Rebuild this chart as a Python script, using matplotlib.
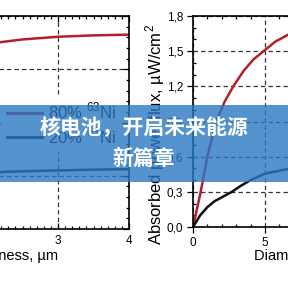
import matplotlib
matplotlib.use('Agg')
import matplotlib.pyplot as plt
import matplotlib.ticker as mticker
from matplotlib.patches import Rectangle

plt.rcParams['font.family'] = ['Liberation Sans', 'DejaVu Sans']
plt.rcParams['mathtext.fontset'] = 'custom'
plt.rcParams['mathtext.rm'] = 'Liberation Sans'

# left panel: thickness scan
thick = [2.0, 2.2, 2.5, 3.0, 3.5, 4.0]
eff_80 = [17.35, 17.55, 17.8, 18.05, 18.18, 18.25]
eff_20 = [5.3, 5.35, 5.42, 5.5, 5.57, 5.62]

# right panel: diameter scan
diam = [0.0, 0.5, 1.0, 1.6, 2.2, 2.8, 3.5, 4.2, 4.9, 5.7, 6.6]
flux_80 = [0.0, 0.28, 0.6, 0.9, 1.07, 1.2, 1.33, 1.43, 1.5, 1.58, 1.64]
diam_b = [0.0, 0.5, 1.0, 1.5, 2.1, 2.7, 3.3, 4.0, 5.0, 6.6]
flux_20 = [0.0, 0.1, 0.17, 0.22, 0.26, 0.3, 0.35, 0.40, 0.455, 0.495]

labels = [r'80% $^{63}$Ni', r'20% $^{63}$Ni']
banner = ['核电池，开启未来能源', '新篇章']

red = '#b41f2c'
blk = '#111111'
grid_kw = dict(color='#333333', lw=0.9, ls=(0, (3.5, 2.5)))

fig = plt.figure(figsize=(2.88, 2.88), dpi=100)

# ---- left
ax1 = fig.add_axes([-155/288, 59/288, 284/288, 213/288])
l1, = ax1.plot(thick, eff_80, color=red, lw=1.8)
l2, = ax1.plot(thick, eff_20, color=blk, lw=1.8)
ax1.set_xlim(0, 4)
ax1.set_ylim(0, 20)
ax1.xaxis.set_major_locator(mticker.MultipleLocator(1))
ax1.xaxis.set_minor_locator(mticker.MultipleLocator(0.1))
ax1.yaxis.set_major_locator(mticker.MultipleLocator(5))
ax1.yaxis.set_minor_locator(mticker.MultipleLocator(1))
ax1.tick_params(which='both', direction='in', top=True, right=True, labelsize=8.5, width=0.9)
ax1.tick_params(which='major', length=4, pad=4)
ax1.tick_params(which='minor', length=2.5)
ax1.grid(True, which='major', **grid_kw)
ax1.set_xlabel('Thickness, µm', fontsize=10.5)
ax1.xaxis.label.set_ha('right')
ax1.xaxis.set_label_coords(0.75, -0.092)
for s in ax1.spines.values():
    s.set_linewidth(1.2)
leg = ax1.legend([l1, l2], labels, loc='upper left', bbox_to_anchor=(1/288, 1 - 95/288),
                 bbox_transform=fig.transFigure, fontsize=12, frameon=True, framealpha=1,
                 facecolor='white', edgecolor='none', handlelength=2.1, handletextpad=0.35,
                 labelspacing=0.25, borderpad=0.35, borderaxespad=0, fancybox=False)
for h in leg.get_lines():
    h.set_linewidth(2.2)

# ---- right
ax2 = fig.add_axes([193/288, 61/288, 216/288, 211/288])
ax2.plot(diam, flux_80, color=red, lw=1.8)
ax2.plot(diam_b, flux_20, color=blk, lw=1.8)
ax2.set_xlim(0, 15)
ax2.set_ylim(0, 1.8)
ax2.xaxis.set_major_locator(mticker.MultipleLocator(5))
ax2.xaxis.set_minor_locator(mticker.MultipleLocator(1))
ax2.yaxis.set_major_locator(mticker.MultipleLocator(0.3))
ax2.yaxis.set_minor_locator(mticker.MultipleLocator(0.1))
ax2.yaxis.set_major_formatter(mticker.FuncFormatter(lambda v, p: f'{v:.1f}'.replace('.', ',')))
ax2.tick_params(which='major', direction='out', length=4, width=0.9, labelsize=8.5, pad=3)
ax2.tick_params(which='minor', direction='in', length=2.5, width=0.9, top=True, right=True)
ax2.grid(True, which='major', **grid_kw)
ax2.set_xlabel('Diameter, µm', fontsize=10.5)
ax2.xaxis.label.set_ha('left')
ax2.xaxis.set_label_coords(0.282, -0.105)
ax2.set_ylabel('Absorbed power flux, µW/cm$^2$', fontsize=12)
ax2.yaxis.set_label_coords(-0.12, 0.436)
for s in ax2.spines.values():
    s.set_linewidth(1.2)

# ---- banner overlay
fig.patches.append(Rectangle((0, 106/288), 1, 77/288, transform=fig.transFigure,
                             facecolor='#2a78c2', alpha=0.8, edgecolor='none', zorder=5))
fig.text(0.5, 1 - 128/288, banner[0], ha='center', va='center', color='white',
         fontsize=15, fontweight='bold', family=['Noto Sans CJK SC', 'DejaVu Sans'], zorder=6)
fig.text(0.5, 1 - 158/288, banner[1], ha='center', va='center', color='white',
         fontsize=15, fontweight='bold', family=['Noto Sans CJK SC', 'DejaVu Sans'], zorder=6)

fig.savefig('out.png', dpi=100)
